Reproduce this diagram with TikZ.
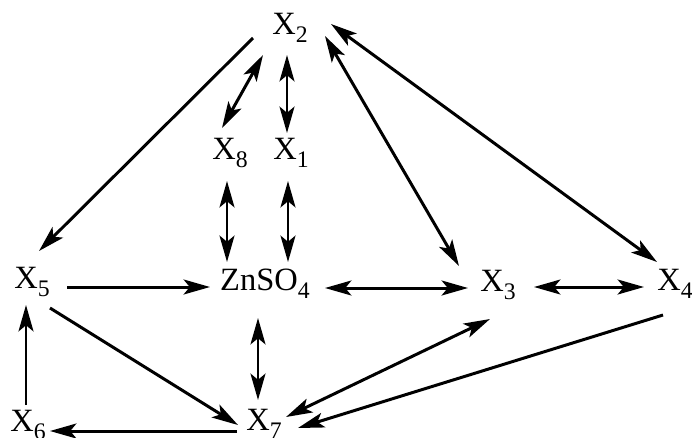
\documentclass[tikz,border=0pt]{standalone}
\usepackage{fontspec}
\setmainfont{Liberation Serif}
\usetikzlibrary{arrows.meta}

\newcommand{\sbs}[1]{\raisebox{-4.5pt}{\fontsize{13.5}{14}\selectfont #1}}

\tikzset{
  species/.style={inner sep=0pt, font=\fontsize{18.5}{20}\selectfont},
  sarr/.style={line width=1.7pt, -{Stealth[length=15pt,width=8.5pt,inset=3.5pt]}},
  darr/.style={line width=1.7pt, {Stealth[length=15pt,width=8.5pt,inset=3.5pt]}-{Stealth[length=15pt,width=8.5pt,inset=3.5pt]}}
}

\begin{document}
\begin{tikzpicture}[x=0.02cm, y=-0.02cm]
            \useasboundingbox (0,0) rectangle (692,437);
            % species
            \node[species] (X2) at (290,28) {X\sbs{2}};
            \node[species] (X8) at (230,153) {X\sbs{8}};
            \node[species] (X1) at (291,153) {X\sbs{1}};
            \node[species] (Zn) at (265,284) {ZnSO\sbs{4}};
            \node[species] (X5) at (32,282) {X\sbs{5}};
            \node[species] (X3) at (498,285) {X\sbs{3}};
            \node[species] (X4) at (675,284) {X\sbs{4}};
            \node[species] (X6) at (28,425) {X\sbs{6}};
            \node[species] (X7) at (264,424) {X\sbs{7}};
            % top part
            \draw[sarr] ([shift={(-37,10)}]X2.center) -- ([shift={(7,-31)}]X5.center);
            \draw[darr] ([shift={(-27,27)}]X2.center) -- ([shift={(-8,-25)}]X8.center);
            \draw[darr] ([shift={(-3,27)}]X2.center) -- ([shift={(-4,-20)}]X1.center);
            \draw[darr] ([shift={(35,8)}]X2.center) -- ([shift={(-39,-19)}]X3.center);
            \draw[darr] ([shift={(41,-4)}]X2.center) -- ([shift={(-18,-22)}]X4.center);
            \draw[darr] ([shift={(-3,28)}]X8.center) -- ([shift={(-38,-22)}]Zn.center);
            \draw[darr] ([shift={(-3,28)}]X1.center) -- ([shift={(23,-22)}]Zn.center);
            % middle row
            \draw[sarr] ([shift={(35,5)}]X5.center) -- ([shift={(-55,3)}]Zn.center);
            \draw[darr] ([shift={(60,4)}]Zn.center) -- ([shift={(-30,3)}]X3.center);
            \draw[darr] ([shift={(36,2)}]X3.center) -- ([shift={(-31,3)}]X4.center);
            % bottom part
            \draw[darr] ([shift={(-7,34)}]Zn.center) -- ([shift={(-6,-24)}]X7.center);
            \draw[sarr] ([shift={(18,26)}]X5.center) -- ([shift={(-26,1)}]X7.center);
            \draw[sarr] ([shift={(-2,-20)}]X6.center) -- ([shift={(-6,23)}]X5.center);
            \draw[sarr] ([shift={(-27,7)}]X7.center) -- ([shift={(22,6)}]X6.center);
            \draw[darr] ([shift={(-8,34)}]X3.center) -- ([shift={(22,-7)}]X7.center);
            \draw[sarr] ([shift={(-12,31)}]X4.center) -- ([shift={(34,4)}]X7.center);
        \end{tikzpicture}
\end{document}
